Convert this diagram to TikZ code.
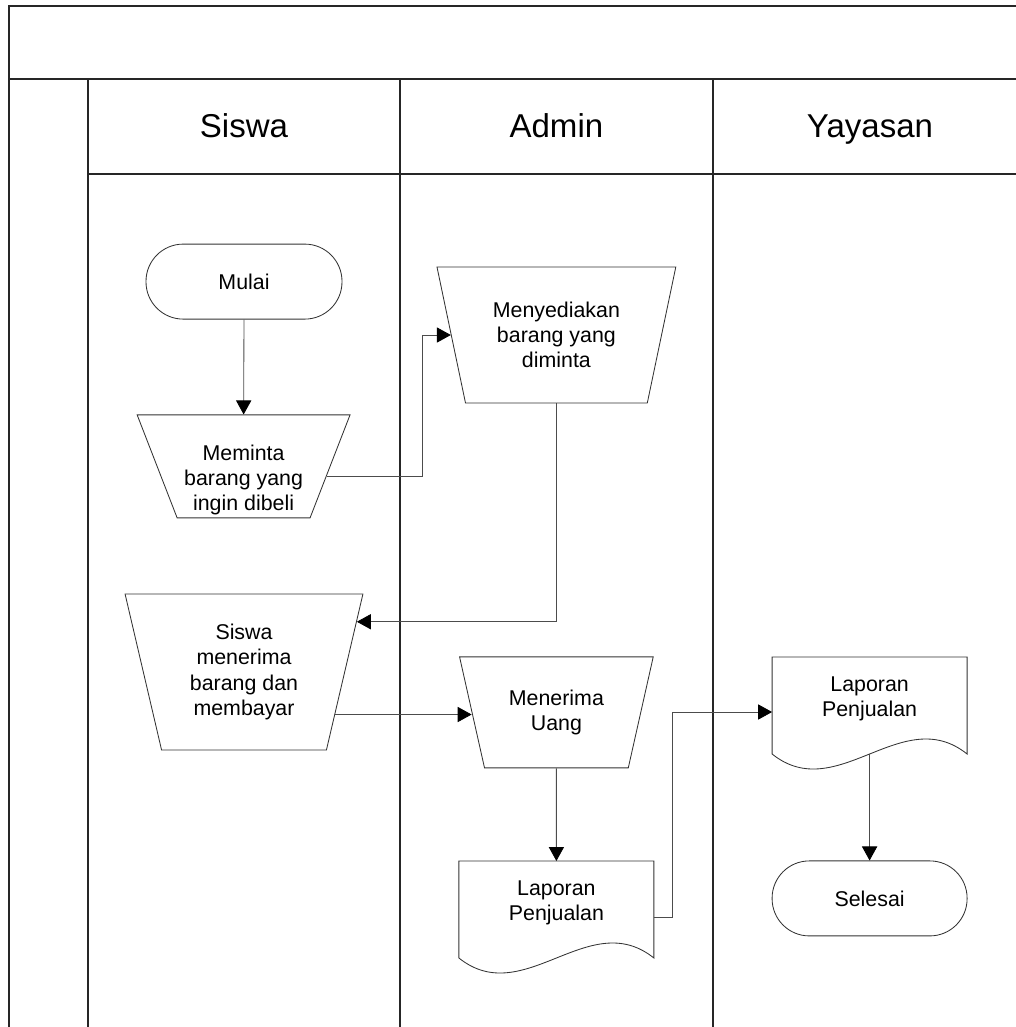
\documentclass[tikz,border=0pt]{standalone}
\usepackage{fontspec}
\setmainfont{Liberation Sans}
\usetikzlibrary{arrows.meta}
\usetikzlibrary{shapes.geometric}
\usetikzlibrary{calc}

\newcommand\docshape[1]{%
  \draw [shapeline] (#1.north west) -- ([yshift=-0.325cm]#1.south west)
    .. controls +(1.625,-1.3) and +(-1.625,1.3) .. ([yshift=-0.325cm]#1.south east)
    -- (#1.north east) -- cycle;}

\begin{document}
\begin{tikzpicture}[
    lane/.style={draw=black!85, line width=0.9pt},
    shapeline/.style={draw=black!80, line width=0.6pt},
    txt/.style={font=\fontsize{15.2}{17.9}\selectfont, align=center},
    terminal/.style={txt, shapeline, rectangle, rounded corners=0.93cm,
      minimum width=4.9cm, minimum height=1.875cm},
    manual/.style={txt, shapeline, trapezium, trapezium stretches=true,
      shape border rotate=180, inner sep=2pt},
    docbox/.style={txt, rectangle, inner sep=0pt, outer sep=0pt,
      minimum width=4.875cm, minimum height=2.1cm},
    flow/.style={draw=black!70, line width=0.6pt,
      -{Triangle[length=0.35cm, width=0.38cm, color=black]}},
    lanetitle/.style={font=\fontsize{23.5}{27}\selectfont, anchor=base}
  ]
  \useasboundingbox (0,0) rectangle (25.4,-25.675);
  \clip (0,0) rectangle (25.4,-25.675);

  % swimlane frame
  \draw [lane] (26,-0.15) -- (0.225,-0.15) -- (0.225,-26);
  \draw [lane, line width=1.3pt] (0.225,-1.975) -- (26,-1.975);
  \draw [lane] (2.2,-4.35) -- (26,-4.35);
  \foreach \x in {2.2,10,17.825}
    \draw [lane] (\x,-1.975) -- (\x,-26);

  \node [lanetitle] (hsiswa) at (6.1,-3.425) {Siswa};
  \node [lanetitle] (hadmin) at (13.91,-3.425) {Admin};
  \node [lanetitle] (hyayasan) at (21.75,-3.425) {Yayasan};

  % Siswa
  \node [terminal] (mulai) at (6.1,-7.04) {Mulai};
  \node [manual, minimum width=5.325cm, minimum height=2.575cm,
    trapezium angle=70, text height=66pt] (minta) at (6.09,-11.66)
    {Meminta\\barang yang\\ingin dibeli};
  \node [manual, minimum width=5.95cm, minimum height=3.9cm,
    trapezium angle=76] (terima) at (6.1,-16.8)
    {Siswa\\menerima\\barang dan\\membayar};

  % Admin
  \node [manual, minimum width=5.975cm, minimum height=3.4cm,
    trapezium angle=73.8] (sedia) at (13.91,-8.375)
    {Menyediakan\\barang yang\\diminta};
  \node [manual, minimum width=4.875cm, minimum height=2.775cm,
    trapezium angle=71] (uang) at (13.91,-17.81) {Menerima\\Uang};
  \node [docbox] (lapA) at (13.91,-22.575) {Laporan\\Penjualan};
  \docshape{lapA}

  % Yayasan
  \node [docbox] (lapY) at (21.74,-17.475) {Laporan\\Penjualan};
  \docshape{lapY}
  \node [terminal, minimum width=4.875cm] (selesai) at (21.74,-22.46) {Selesai};

  % alur
  \draw [flow] (mulai.south) -- (minta.north);
  \draw [flow] (minta.-7) -- ++(2.4,0) |- (sedia.west);
  \draw [flow] (sedia.south) |- (terima.24);
  \draw [flow] (terima.-25) -- (terima.-25 -| uang.west);
  \draw [flow] (uang.south) -- (lapA.north);
  \draw [flow] ([yshift=-0.35cm]lapA.east) -- ++(0.475,0) |- ([yshift=-0.325cm]lapY.west);
  \draw [flow] ([yshift=-0.325cm]lapY.south) -- (selesai.north);
\end{tikzpicture}
\end{document}
